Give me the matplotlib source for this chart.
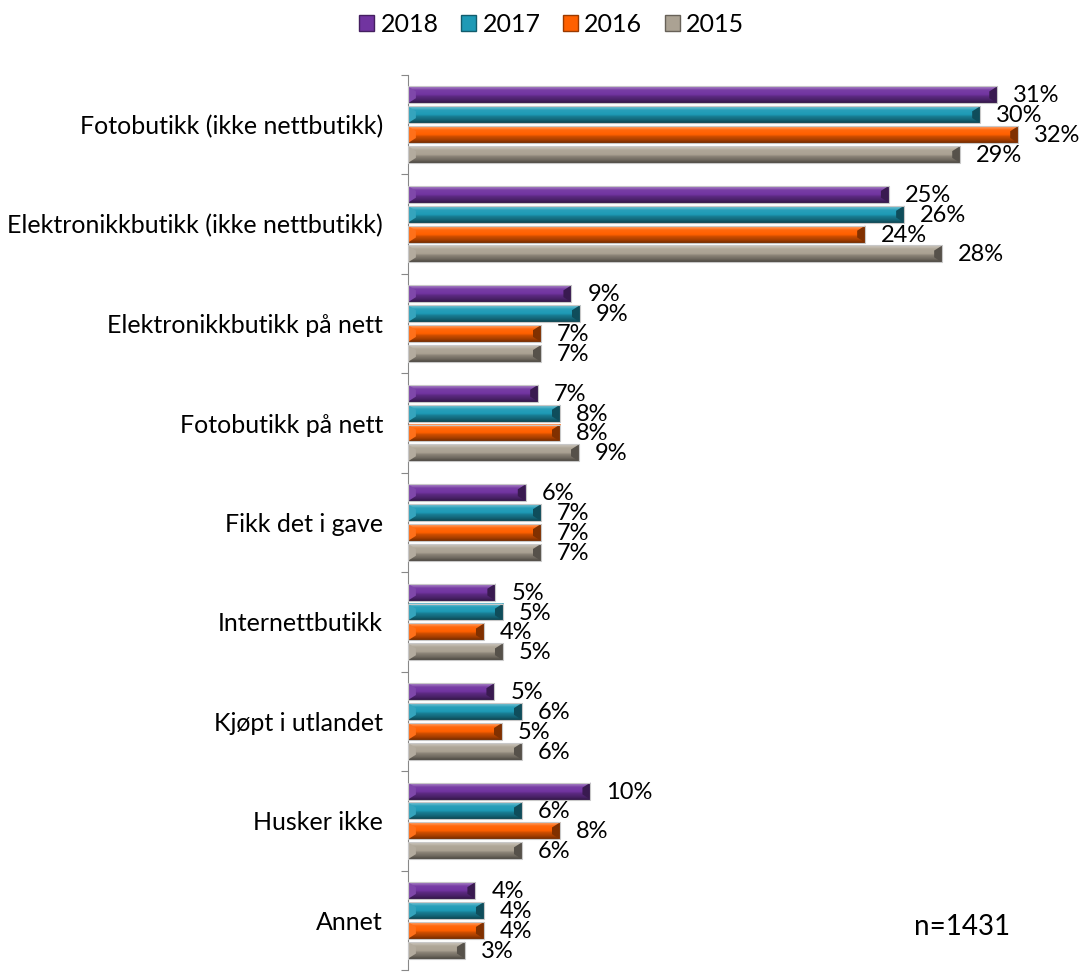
import numpy as np
import matplotlib
matplotlib.use('Agg')
import matplotlib.pyplot as plt
from matplotlib.patches import Rectangle, Polygon
from matplotlib.colors import to_rgb

categories = ['Fotobutikk (ikke nettbutikk)', 'Elektronikkbutikk (ikke nettbutikk)',
              'Elektronikkbutikk på nett', 'Fotobutikk på nett', 'Fikk det i gave',
              'Internettbutikk', 'Kjøpt i utlandet', 'Husker ikke', 'Annet']
years = ['2018', '2017', '2016', '2015']
v2018 = [31.0, 25.3, 8.6, 6.85, 6.2, 4.6, 4.55, 9.6, 3.55]
v2017 = [30.1, 26.1, 9.05, 8.0, 7.0, 5.0, 6.0, 6.0, 4.0]
v2016 = [32.1, 24.05, 7.0, 8.0, 7.0, 4.0, 4.95, 8.0, 4.0]
v2015 = [29.05, 28.1, 7.0, 9.0, 7.0, 5.0, 6.0, 6.0, 3.0]
series = [v2018, v2017, v2016, v2015]
colors = ['#7134A0', '#1E9AB6', '#FF6000', '#ABA293']

plt.rcParams['font.family'] = ['Lato', 'DejaVu Sans']
fs = 18

def shade(c, f):
    c = np.array(to_rgb(c))
    if f >= 0:
        return c + (1 - c) * f
    return c * (1 + f)

# vertical bevel profile, top -> bottom
prof_pos = [0.0, 0.12, 0.22, 0.5, 0.62, 0.82, 1.0]
prof_val = [0.35, 0.25, 0.05, 0.0, -0.2, -0.35, -0.55]

fig = plt.figure(figsize=(10.82, 9.73), dpi=100)
ax = fig.add_axes([0.377, 0.003, 0.615, 0.920])

n = len(categories)
h = 0.17
offsets = [-0.3, -0.1, 0.1, 0.3]
px = 35.0 / (0.615 * 1082)  # data units per pixel in x
rows = np.linspace(0, 1, 40)
for s, vals in enumerate(series):
    col = colors[s]
    grad = np.array([shade(col, f) for f in np.interp(rows, prof_pos, prof_val)])
    img = grad.reshape(-1, 1, 3)
    for i, v in enumerate(vals):
        y = i + 0.5 + offsets[s]
        top = y - h / 2
        bot = y + h / 2
        ax.imshow(img, extent=(0, v, bot, top), origin='upper', aspect='auto',
                  interpolation='bilinear', zorder=2)
        d = 8 * px
        ins = h * 0.3
        ax.add_patch(Polygon([(v, top), (v, bot), (v - d, bot - ins), (v - d, top + ins)],
                             closed=True, facecolor=shade(col, -0.5), edgecolor='none', zorder=3))
        ax.add_patch(Polygon([(0, top), (0, bot), (d, bot - ins), (d, top + ins)],
                             closed=True, facecolor=shade(col, 0.1), edgecolor='none', zorder=3))
        ax.add_patch(Rectangle((0, top), v, h, facecolor='none', edgecolor='#C8C8C8',
                               linewidth=0.8, zorder=4))
        ax.text(v + 16 * px, y + 0.01, '%.0f%%' % v, va='center', ha='left', fontsize=17, zorder=5)

ax.set_xlim(0, 35)
ax.set_ylim(n, 0)

for sp in ['top', 'right', 'bottom']:
    ax.spines[sp].set_visible(False)
ax.spines['left'].set_color('#888888')
ax.set_xticks([])
ax.set_yticks(np.arange(n + 1))
ax.set_yticklabels([])
ax.tick_params(axis='y', which='major', length=5, color='#888888', direction='out')
ax.set_yticks(np.arange(n) + 0.5, minor=True)
ax.set_yticklabels(categories, minor=True, fontsize=fs)
ax.tick_params(axis='y', which='minor', length=0, pad=18)

handles = [Rectangle((0, 0), 1, 1, facecolor=c, edgecolor=shade(c, -0.4)) for c in colors]
fig.legend(handles, years, loc='upper center', bbox_to_anchor=(0.51, 1.01), ncol=4,
           frameon=False, fontsize=fs, handlelength=0.6, handleheight=0.6,
           handletextpad=0.25, columnspacing=0.9)

ax.text(0.76, 0.048, 'n=1431', transform=ax.transAxes, fontsize=20, ha='left', va='center')

fig.savefig('out.png', dpi=100)
